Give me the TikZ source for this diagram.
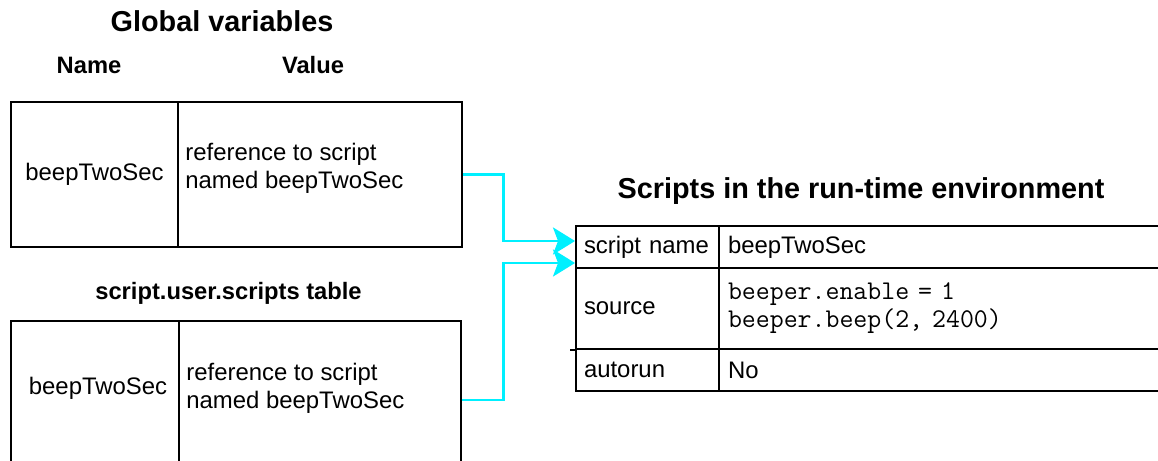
\documentclass[tikz,border=0pt]{standalone}
\usepackage{fontspec}
\setmainfont{Liberation Sans}
\usetikzlibrary{arrows.meta,calc}
\definecolor{linkcyan}{RGB}{0,240,255}

\begin{document}
\begin{tikzpicture}[
    cell/.style={draw=black,line width=1.1pt,inner sep=0pt,font=\fontsize{13.6}{16}\selectfont},
    namecell/.style={cell,minimum width=3.34cm,minimum height=2.90cm},
    valcell/.style={cell,minimum width=5.68cm,minimum height=2.90cm},
    valtext/.style={anchor=west,align=left,inner sep=0pt,font=\fontsize{13.6}{16}\selectfont},
    title/.style={font=\fontsize{16.4}{19}\selectfont\bfseries},
    head/.style={font=\fontsize{13.5}{16}\selectfont\bfseries},
    keycell/.style={cell,minimum width=2.86cm,text width=2.54cm,inner xsep=0.16cm,align=left},
    datacell/.style={cell,minimum width=9.04cm,text width=8.68cm,inner xsep=0.18cm,align=left},
    link/.style={draw=linkcyan,line width=1.7pt,-{Stealth[length=0.44cm,width=0.54cm,inset=0.1cm]}}
  ]
    \useasboundingbox (0,0) rectangle (23.16,-9.22);
    \clip (0,0) rectangle (23.16,-9.22);

    % global variables
    \node[title] (gtitle) at (4.44,-0.42) {Global variables};
    \node[head] (ghname) at (1.78,-1.30) {Name};
    \node[head] (ghval) at (6.26,-1.30) {Value};
    \node[namecell] (gname) at (1.89,-3.49) {beepTwoSec};
    \node[valcell] (gval) at (6.40,-3.49) {};
    \node[valtext] (gvaltxt) at ($(gval.west)+(0.16,0.13)$) {reference to script\\named beepTwoSec};

    % script.user.scripts
    \node[head] (utitle) at (4.57,-5.86) {script.user.scripts table};
    \node[namecell,minimum width=3.36cm,minimum height=3.16cm] (uname) at (1.90,-8.00) {};
    \node[valcell,minimum width=5.64cm,minimum height=3.16cm] (uval) at (6.40,-8.00) {};
    \node[valtext,anchor=center] (unametxt) at (1.96,-7.76) {beepTwoSec};
    \node[valtext] (uvaltxt) at ($(uval.west)+(0.16,0.23)$) {reference to script\\named beepTwoSec};

    % run-time environment
    \node[title] (stitle) at (17.22,-3.82) {Scripts in the run-time environment};
    \node[keycell,minimum height=0.84cm] (skey) at (12.95,-4.94) {script name};
    \node[datacell,minimum height=0.84cm] (sval) at (18.90,-4.94) {beepTwoSec};
    \node[keycell,minimum height=1.62cm] (srckey) at (12.95,-6.17) {source};
    \node[datacell,minimum height=1.62cm,font=\ttfamily\fontsize{15.4}{16}\selectfont] (srcval) at (18.90,-6.17)
      {beeper.enable = 1\\beeper.beep(2, 2400)};
    \node[keycell,minimum height=0.84cm] (akey) at (12.95,-7.40) {autorun};
    \node[datacell,minimum height=0.84cm] (aval) at (18.90,-7.40) {No};
    \draw[line width=1.1pt] (srckey.south west) -- ++(-0.10,0);

    \draw[link] (gval.east) -- ++(0.82,0) |- ($(skey.west)+(0,0.12)$);
    \draw[link] (uval.east) -- ++(0.84,0) |- ($(skey.west)+(0,-0.32)$);
  \end{tikzpicture}
\end{document}
